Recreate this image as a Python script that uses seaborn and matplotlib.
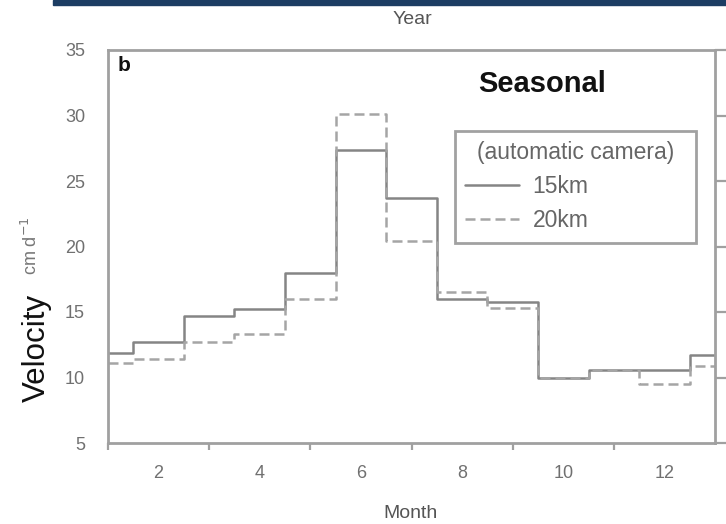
import numpy as np
import pandas as pd
import matplotlib
matplotlib.use("Agg")
import matplotlib.pyplot as plt
from matplotlib.patches import Rectangle
from matplotlib.lines import Line2D
import seaborn as sns

months = [1, 2, 3, 4, 5, 6, 7, 8, 9, 10, 11, 12, 13]
vel_15km = [11.9, 12.7, 14.7, 15.2, 18.0, 27.4, 23.7, 16.0, 15.8, 10.0, 10.6, 10.6, 11.7]
vel_20km = [11.1, 11.4, 12.7, 13.3, 16.0, 30.1, 20.4, 16.5, 15.3, 10.0, 10.6, 9.5, 10.9]
series_names = ["15km", "20km"]
x_ticks = [2, 4, 6, 8, 10, 12]
y_ticks = [5, 10, 15, 20, 25, 30, 35]

df = pd.DataFrame({
    "Month": months * 2,
    "Velocity": vel_15km + vel_20km,
    "Series": [series_names[0]] * len(months) + [series_names[1]] * len(months),
})

sns.set_theme(style="white")
plt.rcParams["font.family"] = ["Liberation Sans", "DejaVu Sans"]

W, H = 726, 524
fig = plt.figure(figsize=(W / 100, H / 100), dpi=100)
ax = fig.add_axes([108 / W, 1 - 443 / H, (715 - 108) / W, (443 - 50) / H])

line_gray = "#858585"
dash_gray = "#a5a5a5"
sns.lineplot(data=df[df.Series == "15km"], x="Month", y="Velocity", ax=ax,
             color=line_gray, lw=1.8, drawstyle="steps-mid", legend=False)
sns.lineplot(data=df[df.Series == "20km"], x="Month", y="Velocity", ax=ax,
             color=dash_gray, lw=1.8, linestyle=(0, (4, 2)), drawstyle="steps-mid", legend=False)

ax.set_xlim(1, 13)
ax.set_ylim(5, 35)
ax.set_xticks(x_ticks)
ax.set_xticks([1, 3, 5, 7, 9, 11], minor=True)
ax.set_yticks(y_ticks)
ax.set_xlabel("")
ax.set_ylabel("")

spine_c = "#a0a0a0"
for s in ax.spines.values():
    s.set_color(spine_c)
    s.set_linewidth(2)
ax.tick_params(axis="both", which="major", direction="out", length=8.5, width=1.6,
               color=spine_c, labelsize=13, labelcolor="#707070")
ax.tick_params(axis="x", which="minor", direction="out", length=5, width=1.6, color=spine_c, bottom=True)
ax.tick_params(axis="y", right=True, labelright=False)
ax.tick_params(axis="x", pad=7)
ax.tick_params(axis="y", pad=8)

# labels
fig.text(410 / W, 1 - 514 / H, "Month", ha="center", va="center", fontsize=14, color="#555555")
fig.text(412 / W, 1 - 20 / H, "Year", ha="center", va="center", fontsize=14, color="#555555")
fig.text(37 / W, 1 - 348 / H, "Velocity", rotation=90, ha="center", va="center", fontsize=22.5, color="#111111")
fig.text(31 / W, 1 - 246 / H, "cm d$^{-1}$", rotation=90, ha="center", va="center", fontsize=13, color="#777777")

ax.text(0.016, 0.985, "b", transform=ax.transAxes, ha="left", va="top", fontsize=15,
        fontweight="bold", color="#111111")
ax.text(0.716, 0.913, "Seasonal", transform=ax.transAxes, ha="center", va="center", fontsize=21,
        fontweight="bold", color="#111111")

handles = [Line2D([], [], color=line_gray, lw=1.8),
           Line2D([], [], color=dash_gray, lw=1.8, linestyle=(0, (4, 2)))]
leg = ax.legend(handles, series_names, title="(automatic camera)", loc="upper left",
                bbox_to_anchor=((455 - 108) / 607, 0.5, 241 / 607, (443 - 131) / 393 - 0.5),
                mode="expand", fancybox=False, frameon=True,
                fontsize=16.5, title_fontsize=16.5, handlelength=2.36, borderpad=0.45,
                labelspacing=0.48, handletextpad=0.57, borderaxespad=0)
leg.get_frame().set_edgecolor("#8a8a8a")
leg.get_frame().set_linewidth(2)
leg.get_title().set_color("#666666")
for t in leg.get_texts():
    t.set_color("#666666")

# decorative banner at top
fig.patches.append(Rectangle((53 / W, 1 - 5 / H), 1, 5 / H, transform=fig.transFigure,
                             color="#1c3d63", zorder=0))

fig.savefig("out.png", dpi=100)
